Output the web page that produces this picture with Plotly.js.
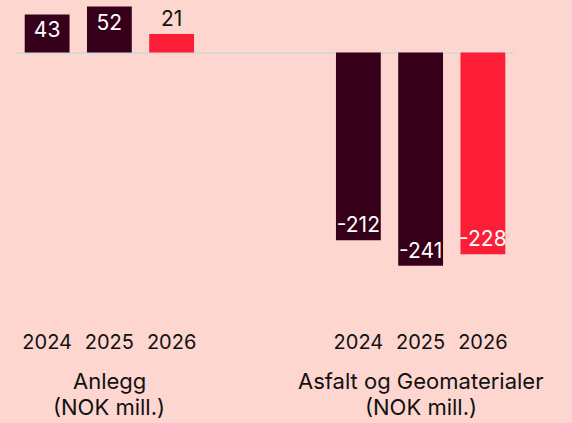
<!DOCTYPE html>
<html><head><meta charset="utf-8">
<script src="https://cdn.plot.ly/plotly-3.0.1.min.js"></script>
<style>html,body{margin:0;padding:0;background:#FDD6D0;}</style>
</head><body><div id="chart" style="width:572px;height:423px;"></div>
<script>
const xPositions = [0, 1, 2, 5, 6, 7];
const years = ["2024", "2025", "2026", "2024", "2025", "2026"];
const values = [43, 52, 21, -212, -241, -228];
const groups = ["Anlegg", "Asfalt og Geomaterialer"];
const unitLabel = "(NOK mill.)";
const groupCenters = [1, 6];

const dark = "#36001A", red = "#FC1D36";
const barColors = [dark, dark, red, dark, dark, red];
const textColors = ["#fff", "#fff", "#111", "#fff", "#fff", "#fff"];
const textPos = ["inside", "inside", "outside", "inside", "inside", "inside"];

const trace = {
  type: "bar", x: xPositions, y: values, width: 0.72,
  marker: {color: barColors},
  text: values.map(String), textposition: textPos, constraintext: "none",
  textangle: 0, insidetextanchor: "end", cliponaxis: false,
  insidetextfont: {family: "Inter", size: 21, color: textColors},
  outsidetextfont: {family: "Inter", size: 21, color: "#111"},
  hoverinfo: "none"
};
const annotations = [];
groups.forEach((g, i) => {
  annotations.push({text: g, x: groupCenters[i], xref: "x", y: 0, yref: "paper", yanchor: "middle",
    yshift: -53, showarrow: false, font: {size: 22, color: "#111"}});
  annotations.push({text: unitLabel, x: groupCenters[i], xref: "x", y: 0, yref: "paper", yanchor: "middle",
    yshift: -79, showarrow: false, font: {size: 22, color: "#111"}});
});
const layout = {
  width: 572, height: 423,
  paper_bgcolor: "#FDD6D0", plot_bgcolor: "#FDD6D0",
  margin: {l: 16, r: 58, t: 5, b: 95},
  showlegend: false,
  font: {family: "Inter", color: "#111"},
  xaxis: {range: [-0.5, 7.5], tickvals: xPositions, ticktext: years, showgrid: false,
          zeroline: false, showline: false, ticks: "", tickfont: {size: 20, color: "#111"}, fixedrange: true},
  yaxis: {range: [-311.3, 53.7], visible: true, showticklabels: false, showgrid: false,
          zeroline: true, zerolinecolor: "#DCD6D6", zerolinewidth: 2, fixedrange: true},
  annotations: annotations
};
Plotly.newPlot("chart", [trace], layout, {displayModeBar: false, staticPlot: true});
</script></body></html>
